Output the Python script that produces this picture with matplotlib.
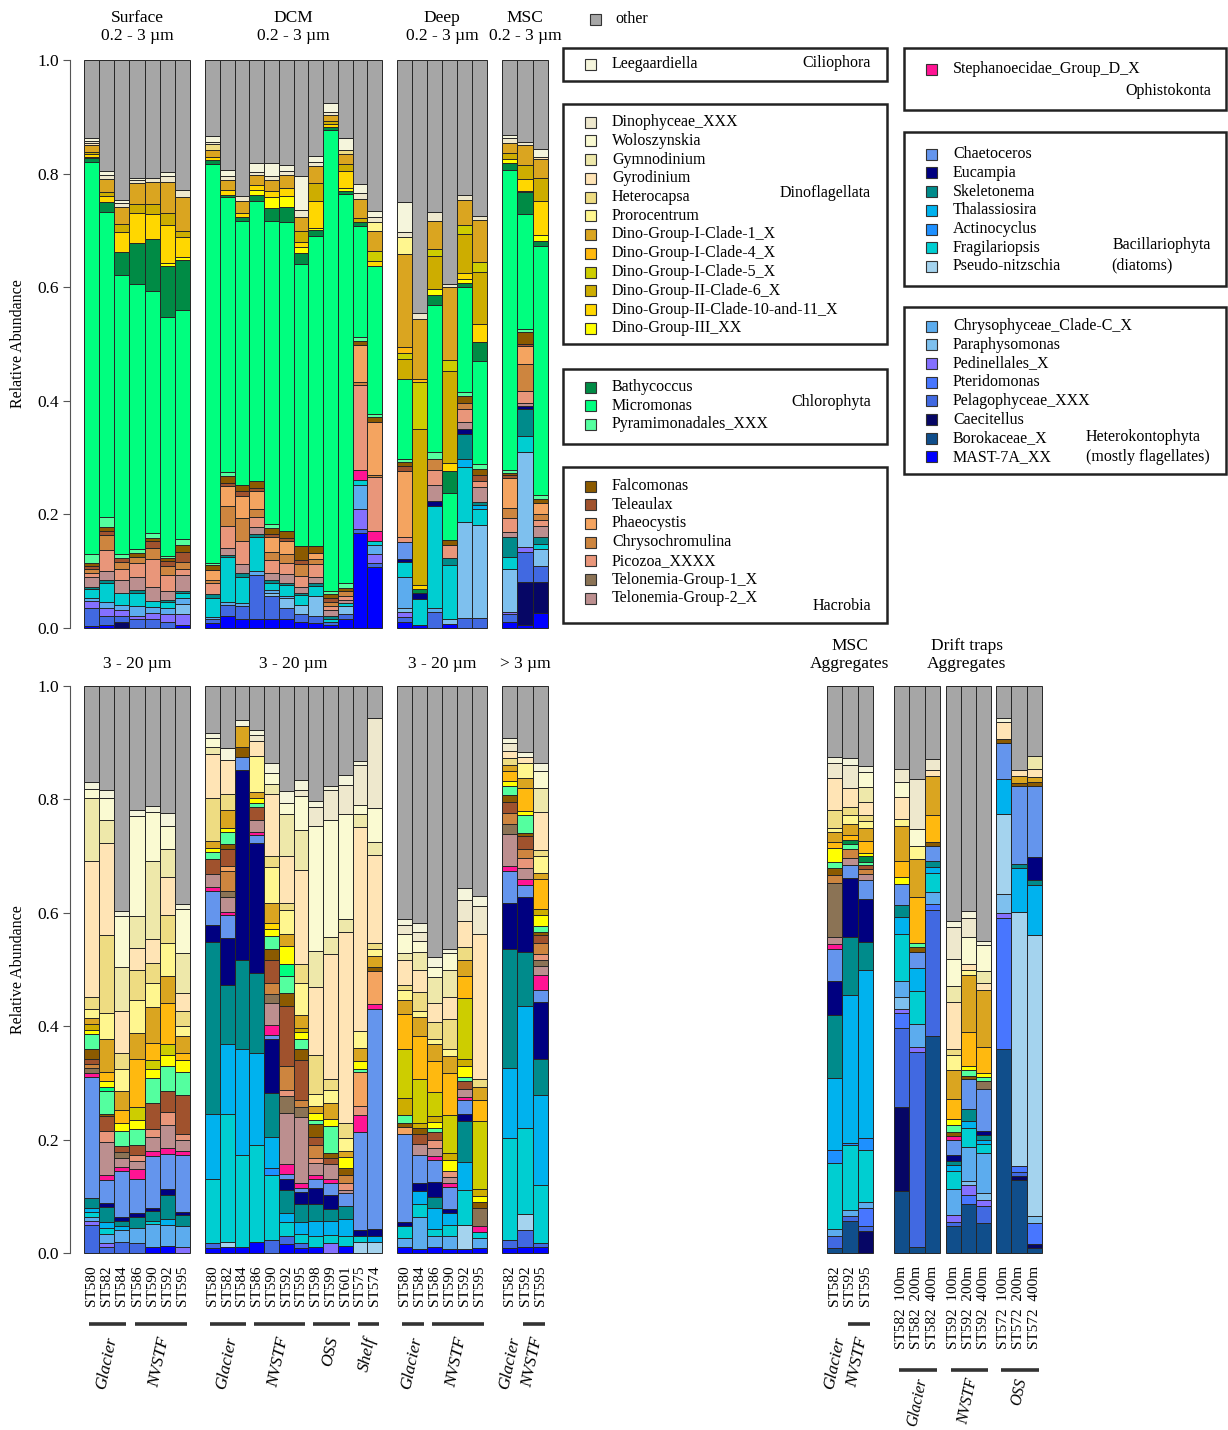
import numpy as np
import matplotlib.pyplot as plt
from matplotlib.patches import Rectangle

plt.rcParams['font.family'] = ['Liberation Serif', 'DejaVu Serif']

# taxa, from the bottom of each stack to the top ("other" goes on top)
taxon_codes = ['MAST', 'Boro', 'Caec', 'Pela', 'Pter', 'Pedi', 'Para', 'Chrs',
               'Pseu', 'Frag', 'Acti', 'Thal', 'Skel', 'Euca', 'Chae',
               'Step',
               'Tel2', 'Tel1', 'Pico', 'Chry', 'Phae', 'Tela', 'Falc',
               'Pyra', 'Micr', 'Bath',
               'D3', 'D10', 'D6', 'D5', 'D4', 'D1', 'Pror', 'Hete', 'Gyro', 'Gymn', 'Wolo', 'Dino',
               'Leeg']
taxon_names = ['MAST-7A_XX', 'Borokaceae_X', 'Caecitellus', 'Pelagophyceae_XXX', 'Pteridomonas',
               'Pedinellales_X', 'Paraphysomonas', 'Chrysophyceae_Clade-C_X',
               'Pseudo-nitzschia', 'Fragilariopsis', 'Actinocyclus', 'Thalassiosira', 'Skeletonema',
               'Eucampia', 'Chaetoceros',
               'Stephanoecidae_Group_D_X',
               'Telonemia-Group-2_X', 'Telonemia-Group-1_X', 'Picozoa_XXXX', 'Chrysochromulina',
               'Phaeocystis', 'Teleaulax', 'Falcomonas',
               'Pyramimonadales_XXX', 'Micromonas', 'Bathycoccus',
               'Dino-Group-III_XX', 'Dino-Group-II-Clade-10-and-11_X', 'Dino-Group-II-Clade-6_X',
               'Dino-Group-I-Clade-5_X', 'Dino-Group-I-Clade-4_X', 'Dino-Group-I-Clade-1_X',
               'Prorocentrum', 'Heterocapsa', 'Gyrodinium', 'Gymnodinium', 'Woloszynskia', 'Dinophyceae_XXX',
               'Leegaardiella']
taxon_colors = ['#0000FF', '#104E8B', '#060665', '#4169E1', '#4876FF', '#8470FF', '#7EC0EE', '#5CACEE',
                '#A4D3EE', '#00CED1', '#1E90FF', '#00B2EE', '#008B8B', '#000080', '#6495ED',
                '#FF1493',
                '#BC8F8F', '#8B7355', '#E9967A', '#CD853F', '#F4A460', '#A0522D', '#8B5A00',
                '#54FF9F', '#00FF7F', '#008B45',
                '#FFFF00', '#FFD700', '#CDAD00', '#CDCD00', '#FFB90F', '#DAA520', '#FFF68F', '#EEDC82',
                '#FFE4B5', '#EEE8AA', '#FAFAD2', '#EEE8CD',
                '#F5F5DC']
other_color = '#A6A6A6'

# ---- 0.2 - 3 um fraction ----
surface_labels = ['ST580', 'ST582', 'ST584', 'ST586', 'ST590', 'ST592', 'ST595']
surface_pico = [
    dict(MAST=.003, Pela=.032, Pedi=.012, Chrs=.006, Frag=.015, Skel=.004, Tel2=.017, Pico=.008, Chry=.006, Tela=.006, Falc=.006, Pyra=.015, Micr=.69, Bath=.008, D3=.002, D10=.004, D6=.004, D1=.012, Gyro=.004, Dino=.004, Leeg=.004),
    dict(MAST=.005, Pela=.017, Pedi=.013, Chrs=.01, Frag=.035, Skel=.004, Tel2=.017, Pico=.036, Chry=.027, Tela=.007, Falc=.006, Pyra=.018, Micr=.537, Bath=.018, D10=.01, D6=.007, D1=.023, Dino=.008, Leeg=.007),
    dict(Pela=.011, Pedi=.01, Chrs=.01, Frag=.02, Caec=.01, Tel2=.023, Pico=.02, Chry=.013, Tela=.007, Pyra=.007, Micr=.49, Bath=.041, D10=.036, D6=.013, D1=.03, Dino=.008, Leeg=.005),
    dict(Pela=.015, Pedi=.007, Chrs=.017, Frag=.023, Skel=.005, Tel2=.023, Pico=.025, Chry=.01, Falc=.007, Pyra=.007, Micr=.466, Bath=.073, D10=.053, D6=.015, D1=.038, Dino=.005, Leeg=.004),
    dict(Pela=.015, Pedi=.012, Chrs=.01, Frag=.01, Tel2=.025, Pico=.05, Chry=.018, Tela=.013, Falc=.005, Pyra=.009, Micr=.426, Bath=.092, D10=.044, D6=.017, D1=.04, Dino=.007),
    dict(Pela=.011, Pedi=.013, Chrs=.011, Frag=.01, Skel=.004, Tel2=.017, Pico=.027, Chry=.017, Tela=.008, Falc=.005, Pyra=.004, Micr=.421, Bath=.09, D3=.005, D10=.066, D6=.022, D1=.055, Dino=.01, Leeg=.007),
    dict(MAST=.005, Pedi=.02, Para=.017, Chrs=.01, Frag=.01, Skel=.004, Tel2=.027, Pico=.01, Chry=.013, Tela=.017, Falc=.013, Pyra=.011, Micr=.403, Bath=.088, D3=.005, D10=.036, D6=.01, D1=.06, Dino=.012),
]

dcm_labels = ['ST580', 'ST582', 'ST584', 'ST586', 'ST590', 'ST592', 'ST595', 'ST598', 'ST599', 'ST601', 'ST575', 'ST574']
dcm_pico = [
    dict(MAST=.008, Pela=.008, Chrs=.004, Frag=.033, Skel=.006, Pico=.02, Chry=.006, Phae=.017, Falc=.009, Pyra=.004, Micr=.702, Bath=.007, D10=.006, D1=.011, Hete=.011, Dino=.004, Leeg=.01),
    dict(MAST=.021, Pela=.02, Chrs=.004, Frag=.08, Skel=.004, Tel2=.012, Pico=.038, Chry=.036, Phae=.035, Tela=.006, Falc=.011, Pyra=.007, Micr=.484, Bath=.004, D10=.01, D1=.017, Dino=.006, Leeg=.012),
    dict(MAST=.015, Pela=.023, Chrs=.006, Frag=.046, Skel=.006, Tel2=.017, Pico=.04, Chry=.04, Phae=.04, Tela=.008, Falc=.01, Micr=.465, Bath=.008, D10=.006, D1=.021, Dino=.009),
    dict(MAST=.015, Pela=.078, Chrs=.008, Frag=.06, Skel=.005, Tel2=.012, Pico=.018, Chry=.013, Phae=.033, Tela=.005, Falc=.011, Micr=.494, Bath=.01, D3=.01, D10=.008, D1=.017, Dino=.005, Leeg=.017),
    dict(MAST=.015, Pela=.041, Chrs=.005, Para=.006, Frag=.013, Skel=.004, Tel2=.013, Pico=.023, Chry=.013, Phae=.027, Tela=.006, Falc=.01, Pyra=.007, Micr=.533, Bath=.023, D3=.02, D10=.01, D1=.02, Dino=.007, Leeg=.023),
    dict(MAST=.015, Pela=.02, Para=.017, Chrs=.005, Frag=.019, Skel=.004, Tel2=.015, Pico=.019, Chry=.017, Phae=.022, Tela=.005, Falc=.013, Micr=.544, Bath=.027, D3=.018, D10=.015, D1=.022, Dino=.007, Leeg=.011),
    dict(MAST=.011, Pela=.013, Para=.017, Frag=.017, Skel=.004, Tel2=.01, Pico=.02, Chry=.02, Tela=.008, Falc=.025, Micr=.496, Bath=.02, D3=.01, D10=.008, D6=.02, D1=.025, Dino=.012, Leeg=.06),
    dict(MAST=.008, Pela=.013, Para=.036, Frag=.017, Skel=.005, Tel2=.01, Pico=.023, Chry=.01, Phae=.01, Falc=.013, Micr=.545, Bath=.01, D3=.005, D10=.046, D6=.033, D1=.03, Dino=.007, Leeg=.01),
    dict(MAST=.006, Pela=.005, Frag=.005, Skel=.005, Tel2=.01, Pico=.008, Chry=.007, Tela=.006, Falc=.007, Pyra=.007, Micr=.81, Bath=.006, D10=.006, D6=.005, D1=.01, Dino=.006, Leeg=.016),
    dict(MAST=.015, Pela=.01, Para=.013, Frag=.006, Tel2=.005, Pico=.008, Chry=.008, Falc=.006, Pyra=.008, Micr=.685, Bath=.005, D3=.005, D10=.03, D6=.013, D1=.017, Hete=.008, Leeg=.02),
    dict(MAST=.167, Pela=.007, Pedi=.036, Chrs=.042, Frag=.008, Step=.019, Pico=.149, Chry=.005, Phae=.065, Falc=.007, Pyra=.007, Micr=.196, Bath=.007, D6=.007, D1=.033, Dino=.011, Leeg=.015),
    dict(MAST=.107, Pela=.008, Pedi=.015, Chrs=.017, Frag=.007, Step=.017, Pico=.094, Chry=.004, Phae=.093, Falc=.01, Pyra=.005, Micr=.26, D10=.01, D5=.017, D1=.035, Pror=.015, Dino=.01, Leeg=.01),
]

deep_labels = ['ST580', 'ST584', 'ST586', 'ST590', 'ST592', 'ST595']
deep_pico = [
    dict(MAST=.011, Pela=.009, Pedi=.008, Para=.008, Chrs=.053, Frag=.027, Euca=.006, Chae=.03, Pico=.009, Phae=.116, Tela=.008, Falc=.007, Pyra=.005, Micr=.141, D6=.035, D5=.012, D4=.01, D1=.163, Pror=.03, Dino=.009, Leeg=.053),
    dict(MAST=.005, Frag=.046, Euca=.01, Bath=.008, D10=.007, D6=.274, D5=.083, D4=.005, D1=.106, Dino=.01),
    dict(Pela=.028, Chrs=.008, Frag=.178, Euca=.01, Tel2=.027, Pico=.027, Chry=.02, Pyra=.011, Micr=.259, Bath=.019, D3=.01, D6=.058, D5=.012, D1=.05, Dino=.015),
    dict(MAST=.007, Para=.008, Frag=.096, Skel=.013, Pico=.023, Falc=.008, Micr=.082, Bath=.04, D10=.013, D6=.163, D5=.019, D1=.129, Dino=.005),
    dict(Pela=.018, Para=.169, Frag=.096, Thal=.015, Skel=.044, Euca=.009, Tel2=.011, Pico=.023, Chry=.012, Falc=.011, Pyra=.007, Micr=.186, Bath=.007, D3=.007, D10=.01, D6=.068, D5=.017, D1=.044, Dino=.009),
    dict(Pela=.018, Para=.163, Thal=.007, Frag=.028, Skel=.005, Tel2=.027, Pico=.01, Tela=.012, Falc=.01, Pyra=.008, Micr=.182, Bath=.033, D10=.033, D6=.09, D5=.019, D1=.074, Dino=.007),
]

msc_labels = ['ST582', 'ST592', 'ST595']
msc_pico = [
    dict(MAST=.011, Pela=.013, Pedi=.005, Para=.075, Frag=.021, Skel=.035, Tel2=.009, Pico=.025, Chry=.017, Phae=.053, Tela=.005, Falc=.004, Pyra=.005, Micr=.529, Bath=.012, D3=.007, D6=.01, D1=.017, Dino=.01, Leeg=.005),
    dict(MAST=.005, Caec=.076, Pela=.052, Pedi=.009, Para=.168, Frag=.028, Skel=.048, Euca=.004, Tel2=.007, Pico=.02, Chry=.048, Phae=.031, Tela=.004, Falc=.022, Pyra=.005, Micr=.202, Bath=.038, D3=.003, D10=.02, D6=.025, D1=.035, Dino=.005),
    dict(MAST=.027, Caec=.054, Pela=.028, Para=.03, Frag=.009, Skel=.012, Tel2=.02, Pico=.01, Chry=.01, Phae=.02, Falc=.007, Pyra=.007, Micr=.438, Bath=.01, D3=.01, D10=.06, D6=.04, D1=.033, Gyro=.004, Leeg=.015),
]

# ---- 3 - 20 um / > 3 um fraction ----
surface_nano = [
    dict(Pela=.05, Pedi=.007, Chrs=.007, Frag=.008, Thal=.008, Skel=.017, Chae=.213, Step=.007, Tel1=.009, Chry=.007, Tela=.01, Falc=.017, Pyra=.027, D3=.007, D6=.01, D1=.01, Pror=.017, Hete=.02, Gyro=.24, Gymn=.112, Wolo=.016, Leeg=.012),
    dict(Pela=.01, Pedi=.007, Chrs=.017, Frag=.01, Thal=.01, Skel=.027, Euca=.007, Chae=.04, Step=.01, Tel2=.057, Pico=.02, Tela=.027, Falc=.004, Pyra=.04, Micr=.007, D3=.01, D4=.017, D1=.057, Pror=.047, Hete=.136, Gyro=.163, Gymn=.04, Wolo=.04, Leeg=.013),
    dict(Pela=.02, Chrs=.02, Thal=.007, Skel=.01, Euca=.007, Chae=.08, Step=.007, Tel2=.017, Tel1=.01, Tela=.01, Pyra=.027, D3=.015, D4=.023, D1=.033, Pror=.039, Hete=.028, Gyro=.073, Gymn=.079, Wolo=.09, Leeg=.009),
    dict(Pela=.017, Chrs=.027, Skel=.019, Euca=.008, Chae=.06, Step=.017, Tel2=.015, Pico=.009, Tela=.019, Pyra=.027, D3=.017, D5=.023, D4=.085, D1=.045, Pror=.058, Hete=.053, Gyro=.039, Gymn=.057, Wolo=.176, Leeg=.01),
    dict(MAST=.01, Chrs=.041, Frag=.005, Skel=.018, Euca=.005, Chae=.092, Step=.009, Tel2=.025, Pico=.013, Tela=.047, Pyra=.043, D3=.017, D5=.015, D4=.031, D1=.063, Pror=.042, Hete=.035, Gyro=.043, Gymn=.138, Wolo=.086, Leeg=.01),
    dict(MAST=.013, Chrs=.037, Thal=.01, Skel=.043, Euca=.01, Chae=.062, Step=.011, Tel2=.04, Pico=.023, Tela=.037, Pyra=.043, D3=.02, D5=.02, D4=.072, D1=.047, Pror=.058, Hete=.051, Gyro=.067, Gymn=.049, Wolo=.04, Leeg=.023),
    dict(Pedi=.01, Chrs=.037, Skel=.02, Euca=.005, Chae=.101, Step=.007, Tel2=.019, Pico=.01, Tela=.07, Pyra=.04, D3=.021, D4=.013, D1=.029, Pror=.018, Hete=.027, Gyro=.032, Gymn=.07, Wolo=.078, Leeg=.009),
]

dcm_nano = [
    dict(MAST=.008, Pela=.009, Frag=.113, Thal=.116, Skel=.303, Euca=.029, Chae=.06, Step=.007, Tel2=.023, Tela=.027, Pyra=.012, D3=.008, D1=.011, Hete=.077, Gyro=.077, Gymn=.013, Wolo=.015, Leeg=.009),
    dict(MAST=.01, Pseu=.01, Frag=.226, Thal=.122, Skel=.104, Euca=.083, Chae=.041, Step=.005, Tel2=.027, Tel1=.01, Chry=.035, Phae=.009, Tela=.03, Falc=.01, Pyra=.02, D3=.007, D1=.033, Hete=.028, Gyro=.06, Leeg=.02),
    dict(MAST=.01, Frag=.163, Thal=.186, Skel=.158, Euca=.335, Chae=.023, Falc=.017, D1=.037, Leeg=.011),
    dict(MAST=.02, Frag=.171, Thal=.162, Skel=.14, Euca=.23, Chae=.015, Step=.005, Tel2=.02, Tela=.023, Pyra=.007, D3=.01, D1=.01, Pror=.063, Gyro=.027, Dino=.01, Leeg=.01),
    dict(Pela=.023, Acti=.013, Frag=.114, Thal=.055, Skel=.078, Euca=.095, Chae=.007, Step=.017, Tel2=.039, Tel1=.016, Chry=.02, Tela=.039, Falc=.02, Pyra=.023, D3=.013, D10=.01, D1=.035, Pror=.063, Hete=.02, Gyro=.11, Gymn=.017, Wolo=.02, Leeg=.017),
    dict(MAST=.015, Pela=.015, Frag=.025, Thal=.016, Skel=.04, Euca=.019, Chae=.01, Step=.017, Tel2=.09, Tel1=.03, Pico=.01, Chry=.043, Tela=.106, Falc=.023, Pyra=.03, Micr=.02, D3=.033, D1=.021, Pror=.042, Hete=.013, Gyro=.083, Gymn=.073, Wolo=.02, Leeg=.021),
    dict(MAST=.008, Pela=.009, Frag=.017, Thal=.02, Skel=.033, Euca=.02, Chae=.007, Step=.01, Tel2=.116, Tel1=.017, Chry=.013, Tela=.07, Falc=.02, Pyra=.017, D3=.013, D6=.007, D1=.023, Pror=.057, Hete=.033, Gyro=.166, Gymn=.07, Wolo=.06, Dino=.01, Leeg=.019),
    dict(MAST=.01, Frag=.02, Thal=.027, Skel=.03, Euca=.027, Chae=.017, Step=.007, Tel2=.02, Pico=.01, Chry=.023, Tela=.013, Falc=.023, Pyra=.007, D3=.013, D1=.013, Pror=.02, Hete=.07, Gyro=.12, Gymn=.063, Wolo=.22, Dino=.033, Leeg=.012),
    dict(Pedi=.017, Frag=.015, Thal=.025, Skel=.021, Euca=.024, Chae=.021, Step=.007, Tel2=.027, Tela=.01, Falc=.01, Pyra=.047, D3=.013, D1=.027, Pror=.023, Hete=.02, Gyro=.22, Gymn=.031, Wolo=.206, Dino=.052, Leeg=.008),
    dict(MAST=.013, Frag=.017, Thal=.03, Skel=.023, Chae=.023, Tel2=.005, Pico=.013, Chry=.013, Falc=.013, D3=.02, D1=.01, Pror=.023, Hete=.027, Gyro=.336, Gymn=.023, Wolo=.186, Dino=.05, Leeg=.018),
    dict(Pseu=.02, Frag=.01, Euca=.01, Chae=.173, Step=.03, Pico=.017, Phae=.06, Pyra=.005, D3=.013, D1=.023, Pror=.03, Gyro=.36, Gymn=.023, Wolo=.017, Dino=.07, Leeg=.007),
    dict(Pseu=.02, Thal=.01, Euca=.013, Chae=.387, Step=.009, Phae=.058, Falc=.007, D1=.02, Pror=.013, Hete=.009, Gyro=.156, Gymn=.023, Wolo=.06, Dino=.158),
]

deep_nano = [
    dict(MAST=.01, Chrs=.017, Frag=.02, Euca=.007, Chae=.156, Phae=.013, Falc=.007, Pyra=.013, D6=.03, D5=.086, D4=.062, D1=.025, Pror=.017, Hete=.01, Gyro=.043, Gymn=.013, Wolo=.033, Dino=.017, Leeg=.01),
    dict(MAST=.007, Chrs=.057, Frag=.023, Thal=.023, Euca=.013, Chae=.05, Tel2=.02, Tela=.017, Falc=.01, D6=.01, D5=.077, D4=.075, D1=.035, Pror=.01, Hete=.033, Gyro=.04, Gymn=.03, Wolo=.02, Dino=.017, Leeg=.015),
    dict(MAST=.01, Chrs=.02, Frag=.013, Thal=.037, Skel=.018, Euca=.027, Chae=.039, Step=.007, Tel2=.015, Pico=.013, Tela=.015, Pyra=.007, D3=.01, D6=.01, D5=.043, D4=.055, D1=.029, Pror=.01, Hete=.03, Gyro=.033, Gymn=.045, Wolo=.019, Leeg=.017),
    dict(MAST=.007, Chrs=.023, Frag=.02, Thal=.02, Euca=.008, Chae=.039, Step=.007, Tel2=.01, Pico=.01, D3=.02, D6=.013, D5=.067, D4=.073, D1=.03, Pror=.013, Hete=.053, Gyro=.038, Gymn=.049, Wolo=.029, Leeg=.007),
    dict(MAST=.007, Pseu=.043, Frag=.061, Thal=.049, Skel=.073, Euca=.013, Chae=.023, Step=.007, Tel2=.013, Tela=.014, Pyra=.007, D3=.02, D6=.013, D5=.106, D4=.04, D1=.028, Hete=.022, Gyro=.047, Dino=.037, Leeg=.02),
    dict(MAST=.008, Frag=.01, Chrs=.019, Step=.01, Tel1=.033, Falc=.01, D3=.01, D6=.013, D5=.12, D4=.037, D1=.023, Hete=.013, Gyro=.256, Dino=.05, Leeg=.018),
]

msc_big = [
    dict(MAST=.008, Pela=.015, Frag=.18, Thal=.123, Skel=.211, Euca=.08, Chae=.057, Step=.008, Tel2=.057, Tel1=.017, Chry=.02, Tela=.02, Falc=.012, Pyra=.015, D3=.01, D4=.017, D1=.01, Hete=.013, Gyro=.013, Dino=.013, Leeg=.01),
    dict(MAST=.01, Pela=.03, Pseu=.028, Frag=.152, Thal=.216, Skel=.095, Euca=.096, Chae=.022, Step=.011, Tel2=.019, Pico=.017, Chry=.017, Tela=.023, Falc=.005, Pyra=.031, D3=.008, D4=.04, D1=.017, Pror=.027, Gyro=.01, Leeg=.01),
    dict(MAST=.01, Pela=.008, Frag=.102, Thal=.158, Skel=.064, Euca=.101, Chae=.02, Step=.027, Tel2=.017, Tel1=.01, Pico=.01, Chry=.02, Tela=.013, Falc=.007, Pyra=.01, D3=.02, D6=.01, D4=.053, D1=.01, Pror=.03, Hete=.01, Gyro=.067, Gymn=.043, Wolo=.03, Leeg=.015),
]

# ---- aggregates ----
agg_msc_labels = ['ST582', 'ST592', 'ST595']
agg_msc = [
    dict(Boro=.008, Pela=.022, Chrs=.013, Frag=.116, Acti=.023, Thal=.126, Skel=.111, Euca=.06, Chae=.057, Step=.009, Tel2=.013, Tel1=.095, Chry=.013, Falc=.013, Pyra=.011, D3=.025, D4=.01, D1=.017, Pror=.007, Hete=.033, Gyro=.056, Dino=.027, Leeg=.01),
    dict(Boro=.056, Pela=.01, Chrs=.01, Frag=.115, Acti=.003, Thal=.261, Skel=.102, Euca=.104, Chae=.023, Tel2=.013, Chry=.015, Pyra=.009, Bath=.007, D4=.009, D1=.02, Pror=.015, Hete=.015, Gyro=.033, Dino=.04, Leeg=.013),
    dict(Caec=.039, Pela=.009, Pter=.032, Chrs=.01, Frag=.091, Acti=.022, Thal=.296, Skel=.05, Euca=.076, Chae=.033, Tel2=.01, Chry=.01, Tela=.007, Pyra=.005, Bath=.01, D3=.005, D4=.021, D1=.023, Pror=.013, Hete=.01, Gyro=.023, Gymn=.027, Wolo=.027, Leeg=.01),
]

trap_glacier_labels = ['ST582  100m', 'ST582  200m', 'ST582  400m']
trap_glacier = [
    dict(Boro=.11, Caec=.148, Pela=.138, Pter=.027, Pedi=.007, Para=.022, Chrs=.028, Frag=.083, Thal=.029, Skel=.021, Chae=.037, D3=.013, D4=.029, D1=.061, Pror=.012, Gyro=.04, Wolo=.025, Dino=.024),
    dict(Boro=.01, Pela=.345, Pedi=.009, Chrs=.04, Frag=.058, Thal=.04, Chae=.029, Falc=.008, Pyra=.007, D4=.081, D1=.068, Pror=.023, Wolo=.03, Dino=.088),
    dict(Boro=.382, Pela=.223, Pter=.01, Chrs=.022, Frag=.033, Thal=.011, Skel=.01, Chae=.027, Falc=.007, D4=.047, D1=.07, Gyro=.01, Dino=.02),
]
trap_nvstf_labels = ['ST592  100m', 'ST592  200m', 'ST592  400m']
trap_nvstf = [
    dict(Boro=.047, Pela=.007, Pedi=.013, Chrs=.045, Frag=.033, Thal=.011, Skel=.007, Euca=.009, Chae=.027, Step=.007, Falc=.008, Pyra=.012, D3=.01, D4=.035, D1=.051, Pror=.027, Hete=.01, Gyro=.083, Gymn=.029, Wolo=.048, Dino=.056, Leeg=.01),
    dict(Boro=.086, Pter=.017, Pedi=.017, Para=.007, Chrs=.06, Frag=.033, Thal=.013, Skel=.021, Chae=.052, Falc=.007, Pyra=.01, D3=.007, D4=.06, D1=.1, Pror=.01, Gyro=.01, Wolo=.048, Dino=.032, Leeg=.013),
    dict(Boro=.053, Pela=.03, Pedi=.01, Para=.013, Chrs=.07, Frag=.017, Thal=.007, Skel=.008, Euca=.007, Chae=.075, Tel1=.013, Pyra=.007, D3=.007, D4=.047, D1=.1, Gyro=.013, Gymn=.02, Wolo=.047, Leeg=.007),
]
trap_oss_labels = ['ST572  100m', 'ST572  200m', 'ST572  400m']
trap_oss = [
    dict(Boro=.359, Pter=.231, Pedi=.009, Para=.035, Pseu=.14, Thal=.062, Chae=.064, Falc=.007, Gyro=.03, Leeg=.007),
    dict(Boro=.128, Caec=.007, Pela=.007, Pter=.012, Pseu=.447, Thal=.078, Skel=.007, Chae=.138, Falc=.005, D1=.013, Gyro=.009),
    dict(Boro=.008, Caec=.008, Pter=.037, Para=.013, Pseu=.495, Thal=.088, Skel=.008, Euca=.042, Chae=.124, Falc=.007, D1=.01, Gyro=.013, Gymn=.023),
]

# ------------------------------------------------------------------
W, H = 1228, 1430
fig = plt.figure(figsize=(W / 100, H / 100), dpi=100)
col = dict(zip(taxon_codes, taxon_colors))
name = dict(zip(taxon_codes, taxon_names))
edge = '#262626'


def panel(x0, x1, top, bot):
    ax = fig.add_axes([x0 / W, 1 - bot / H, (x1 - x0) / W, (bot - top) / H])
    for s in ax.spines.values():
        s.set_visible(False)
    ax.set_yticks([])
    ax.set_xticks([])
    return ax


def draw(ax, bars):
    x = np.arange(len(bars))
    bottom = np.zeros(len(bars))
    for c in taxon_codes:
        h = np.array([b.get(c, 0.0) for b in bars])
        m = h > 0
        if m.any():
            ax.bar(x[m], h[m], bottom=bottom[m], width=1, color=col[c],
                   edgecolor=edge, linewidth=0.7, clip_on=False)
        bottom += h
    ax.bar(x, 1 - bottom, bottom=bottom, width=1, color=other_color,
           edgecolor=edge, linewidth=0.7, clip_on=False)
    ax.set_xlim(-0.5, len(bars) - 0.5)
    ax.set_ylim(0, 1)


def xlabels(ax, labels):
    ax.set_xticks(np.arange(len(labels)))
    ax.set_xticklabels(labels, rotation=90, fontsize=11)
    ax.tick_params(axis='x', length=0, pad=9)


def groups(ax, grp, yline, ytext, size=12.5):
    tr = ax.get_xaxis_transform()
    for lab, i0, i1, line in grp:
        if line:
            ax.plot([i0 - 0.15, i1 + 0.3], [yline, yline], transform=tr, clip_on=False,
                    color='#333333', lw=2.6, solid_capstyle='butt')
        ax.text((i0 + i1) / 2, ytext, lab, transform=tr, rotation=78, ha='center', va='top',
                style='italic', fontsize=size)


def yaxis(ax):
    ax.spines['left'].set_visible(True)
    ax.spines['left'].set_position(('outward', 10))
    ax.spines['left'].set_color('#555555')
    ax.set_yticks(np.arange(0, 1.01, 0.2))
    ax.set_yticklabels(['%.1f' % v for v in np.arange(0, 1.01, 0.2)], fontsize=12.5)
    ax.tick_params(axis='y', length=5, color='#555555', pad=3)
    ax.set_ylabel('Relative Abundance', fontsize=11.5)
    ax.yaxis.set_label_coords(-0.55, 0.5)


TOP = (60, 628)
BOT = (686, 1253)
cols_x = [(84, 190), (205, 382), (397, 487), (502, 548)]
top_titles = ['Surface\n0.2 - 3 µm', 'DCM\n0.2 - 3 µm', 'Deep\n0.2 - 3 µm', 'MSC\n0.2 - 3 µm']
bot_titles = ['3 - 20 µm', '3 - 20 µm', '3 - 20 µm', '> 3 µm']
top_data = [surface_pico, dcm_pico, deep_pico, msc_pico]
bot_data = [surface_nano, dcm_nano, deep_nano, msc_big]
lab_sets = [surface_labels, dcm_labels, deep_labels, msc_labels]
grp_sets = [
    [('Glacier', 0, 2, True), ('NVSTF', 3, 6, True)],
    [('Glacier', 0, 2, True), ('NVSTF', 3, 6, True), ('OSS', 7, 9, True), ('Shelf', 10, 11, True)],
    [('Glacier', 0, 1, True), ('NVSTF', 2, 5, True)],
    [('Glacier', 0, 0, False), ('NVSTF', 1, 2, True)],
]

for k, (x0, x1) in enumerate(cols_x):
    at = panel(x0, x1, *TOP)
    draw(at, top_data[k])
    at.text(0.5, 1 + 33 / 568, top_titles[k], transform=at.transAxes, ha='center',
            va='center', fontsize=12.5, linespacing=1.15)
    ab = panel(x0, x1, *BOT)
    draw(ab, bot_data[k])
    ab.text(0.5, 1 + 22 / 567, bot_titles[k], transform=ab.transAxes, ha='center',
            va='center', fontsize=12.5)
    xlabels(ab, lab_sets[k])
    groups(ab, grp_sets[k], -0.125, -0.145)
    if k == 0:
        yaxis(at)
        yaxis(ab)

# aggregates
am = panel(827, 873, *BOT)
draw(am, agg_msc)
xlabels(am, agg_msc_labels)
groups(am, [('Glacier', 0, 0, False), ('NVSTF', 1, 2, True)], -0.125, -0.145)

for (x0, x1), d, labs, g in [((894, 940), trap_glacier, trap_glacier_labels, 'Glacier'),
                              ((946, 991), trap_nvstf, trap_nvstf_labels, 'NVSTF'),
                              ((996, 1042), trap_oss, trap_oss_labels, 'OSS')]:
    a = panel(x0, x1, *BOT)
    draw(a, d)
    xlabels(a, labs)
    groups(a, [(g, 0, 2, True)], -0.206, -0.218, size=11.5)

# legend overlay in pixel coordinates
lg = fig.add_axes([0, 0, 1, 1])
lg.set_xlim(0, W)
lg.set_ylim(H, 0)
lg.axis('off')

lg.text(850, 655, 'MSC\nAggregates', ha='center', va='center', fontsize=12.5, linespacing=1.15)
lg.text(967, 655, 'Drift traps\nAggregates', ha='center', va='center', fontsize=12.5, linespacing=1.15)


def swatch(x, y, c):
    lg.add_patch(Rectangle((x, y - 5.5), 11, 11, facecolor=c, edgecolor='#333333', lw=0.8))


swatch(590, 19, other_color)
lg.text(615, 19, 'other', va='center', fontsize=11.5)


def box(x0, y0, x1, y1, codes, yfirst, step, extra):
    lg.add_patch(Rectangle((x0, y0), x1 - x0, y1 - y0, fill=False, edgecolor='#222222', lw=1.8))
    for i, c in enumerate(codes):
        y = yfirst + i * step
        swatch(x0 + 22, y, col[c])
        lg.text(x0 + 49, y, name[c], va='center', fontsize=11.5)
    for tx, ty, s, ha in extra:
        lg.text(tx, ty, s, ha=ha, va='center', fontsize=11.5)


box(563, 48, 887, 81, ['Leeg'], 64, 18.7, [(871, 63, 'Ciliophora', 'right')])
box(563, 104, 887, 344, ['Dino', 'Wolo', 'Gymn', 'Gyro', 'Hete', 'Pror', 'D1', 'D4', 'D5', 'D6', 'D10', 'D3'],
    122, 18.75, [(871, 193, 'Dinoflagellata', 'right')])
box(563, 369, 887, 444, ['Bath', 'Micr', 'Pyra'], 387, 18.7, [(871, 402, 'Chlorophyta', 'right')])
box(563, 467, 887, 623, ['Falc', 'Tela', 'Phae', 'Chry', 'Pico', 'Tel1', 'Tel2'], 486, 18.7,
    [(871, 606, 'Hacrobia', 'right')])
box(904, 48, 1226, 110, ['Step'], 69, 18.7, [(1211, 91, 'Ophistokonta', 'right')])
box(904, 132, 1226, 286, ['Chae', 'Euca', 'Skel', 'Thal', 'Acti', 'Frag', 'Pseu'], 154, 18.75,
    [(1211, 245, 'Bacillariophyta', 'right'), (1111, 265, '(diatoms)', 'left')])
box(904, 307, 1226, 474, ['Chrs', 'Para', 'Pedi', 'Pter', 'Pela', 'Caec', 'Boro', 'MAST'], 326, 18.7,
    [(1086, 437, 'Heterokontophyta', 'left'), (1086, 457, '(mostly flagellates)', 'left')])

fig.savefig('out.png', dpi=100)
